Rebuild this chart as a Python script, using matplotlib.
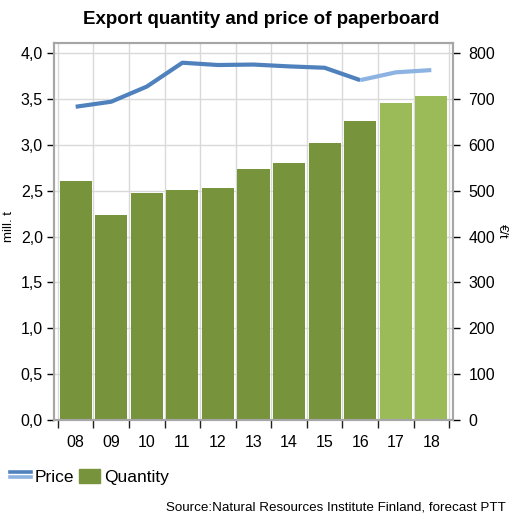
import numpy as np
import matplotlib
matplotlib.use("Agg")
import matplotlib.pyplot as plt
from matplotlib.lines import Line2D
from matplotlib.patches import Patch
from matplotlib.ticker import FuncFormatter, FixedLocator

plt.rcParams['font.family'] = ['Liberation Sans', 'DejaVu Sans']

years = ["08", "09", "10", "11", "12", "13", "14", "15", "16", "17", "18"]
quantity = [2.61, 2.24, 2.48, 2.51, 2.53, 2.74, 2.80, 3.02, 3.26, 3.46, 3.53]
price = [683, 694, 727, 779, 774, 775, 771, 768, 741, 758, 763]
n_actual = 9  # 08-16 actual, 17-18 forecast

dark_green = "#77933c"
light_green = "#9bbb59"
dark_blue = "#4f81bd"
light_blue = "#8db3e2"


class TwoLineHandler:
    # legend mark with two stacked lines
    def legend_artist(self, legend, orig_handle, fontsize, handlebox):
        x0, y0 = handlebox.xdescent, handlebox.ydescent
        w, h = handlebox.width, handlebox.height
        l1 = Line2D([x0, x0 + w], [y0 + h * 0.62] * 2, color=dark_blue, lw=2.6)
        l2 = Line2D([x0, x0 + w], [y0 + h * 0.30] * 2, color=light_blue, lw=2.6)
        handlebox.add_artist(l1)
        handlebox.add_artist(l2)
        return l1


fig = plt.figure(figsize=(5.23, 5.25), dpi=100)
ax = fig.add_axes([54 / 523, 1 - 420 / 525, (453 - 54) / 523, (420 - 43) / 525])
ax2 = ax.twinx()

x = np.arange(len(years))
colors = [dark_green] * n_actual + [light_green] * (len(years) - n_actual)
ax.bar(x, quantity, width=0.9, color=colors, zorder=2)

ax2.plot(x[:n_actual], price[:n_actual], color=dark_blue, lw=3, solid_capstyle="butt")
ax2.plot(x[n_actual - 1:], price[n_actual - 1:], color=light_blue, lw=3, solid_capstyle="butt")

ax.set_xlim(-0.61, len(years) - 1 + 0.61)
ax.set_ylim(0, 4.11)
ax2.set_ylim(0, 4.11 * 200)

ax.set_yticks(np.arange(0, 4.01, 0.5))
ax.yaxis.set_major_formatter(FuncFormatter(lambda v, p: f"{v:.1f}".replace(".", ",")))
ax2.set_yticks(np.arange(0, 801, 100))

ax.xaxis.set_major_locator(FixedLocator(np.arange(-0.5, len(years) - 0.4, 1)))
ax.xaxis.set_minor_locator(FixedLocator(x))
ax.set_xticklabels([], minor=False)
ax.set_xticklabels(years, minor=True)
ax.tick_params(axis="x", which="minor", length=0, pad=11, labelsize=11.5)
ax.tick_params(axis="x", which="major", length=6, width=1, color="#222222", direction="out")
ax.tick_params(axis="y", length=5, width=1, labelsize=11.5, pad=3)
ax2.tick_params(axis="y", length=5, width=1, labelsize=11.5, pad=6)

ax.grid(True, which="major", color="#d9d9d9", lw=1, zorder=0)
ax.set_axisbelow(True)
for a in (ax, ax2):
    for s in a.spines.values():
        s.set_color("#a6a6a6")
        s.set_linewidth(1.5)

fig.text(9 / 523, 1 - 226 / 525, "mill. t", rotation=90, ha="center", va="center", fontsize=9.5)
fig.text(502 / 523, 1 - 231 / 525, "€/t", rotation=-90, ha="center", va="center", fontsize=9.5)

fig.text(0.5, 1 - 19 / 525, "Export quantity and price of paperboard",
         ha="center", va="center", fontsize=13.5, fontweight="bold")

handles = [Line2D([], [], color=dark_blue), Patch(color=dark_green)]
fig.legend(handles, ["Price", "Quantity"], loc="center left",
           bbox_to_anchor=(0.0, 1 - 477 / 525), frameon=False, fontsize=12.5,
           ncol=2, handlelength=1.2, handleheight=0.9, handletextpad=0.2,
           columnspacing=0.3, borderaxespad=0.2,
           handler_map={Line2D: TwoLineHandler()})

fig.text(506 / 523, 1 - 508 / 525, "Source:Natural Resources Institute Finland, forecast PTT",
         ha="right", va="center", fontsize=9.6)

fig.savefig("out.png", dpi=100)
